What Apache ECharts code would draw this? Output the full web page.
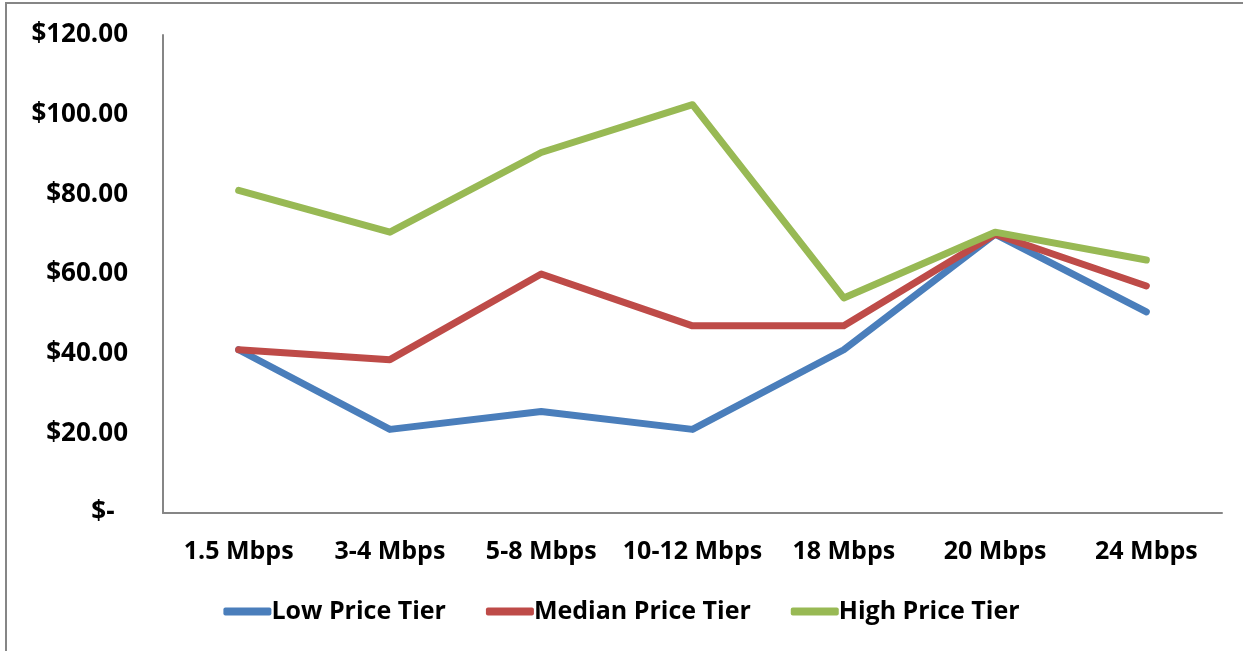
<!DOCTYPE html>
<html>
<head>
<meta charset="utf-8">
<script src="https://cdn.jsdelivr.net/npm/echarts@6/dist/echarts.min.js"></script>
<style>
html,body{margin:0;padding:0;background:#fff;}
#chart{width:1243px;height:651px;}
</style>
</head>
<body>
<div id="chart"></div>
<script>
// speed tiers and monthly price by tier
var categories = ['1.5 Mbps', '3-4 Mbps', '5-8 Mbps', '10-12 Mbps', '18 Mbps', '20 Mbps', '24 Mbps'];
var lowTier = [40.99, 20.99, 25.5, 20.99, 40.99, 69.99, 50.5];
var medianTier = [40.99, 38.5, 59.99, 46.99, 46.99, 69.99, 56.99];
var highTier = [80.99, 70.5, 90.5, 102.5, 53.99, 70.5, 63.5];
var yTicks = [0, 20, 40, 60, 80, 100, 120];

var font = '"Open Sans", "Liberation Sans", sans-serif';

var myChart = echarts.init(document.getElementById('chart'));

function lineSeries(name, data, color){
    return {
        name: name,
        type: 'line',
        data: data,
        showSymbol: false,
        symbol: 'none',
        lineStyle: {width: 7, color: color, cap: 'round', join: 'round'},
        itemStyle: {color: color}
    };
}

myChart.setOption({
    animation: false,
    graphic: [{
        type: 'rect',
        shape: {x: 6, y: 3, width: 1400, height: 800},
        style: {fill: 'none', stroke: '#868686', lineWidth: 2},
        silent: true
    }],
    grid: {left: 163, right: 21, top: 35, bottom: 138},
    legend: {
        bottom: 22,
        left: 'center',
        icon: 'roundRect',
        itemWidth: 48,
        itemHeight: 8,
        itemGap: 40,
        textStyle: {fontFamily: font, fontWeight: 'bold', fontSize: 25, color: '#000', padding: [0, 0, 0, -5]}
    },
    xAxis: {
        type: 'category',
        data: categories,
        boundaryGap: true,
        axisLine: {lineStyle: {color: '#868686', width: 2}},
        axisTick: {show: false},
        axisLabel: {interval: 0, fontFamily: font, fontWeight: 'bold', fontSize: 25, color: '#000', margin: 26}
    },
    yAxis: {
        type: 'value',
        min: 0,
        max: 120,
        interval: 20,
        axisLine: {show: true, lineStyle: {color: '#868686', width: 2}},
        axisTick: {show: false},
        splitLine: {show: false},
        axisLabel: {
            fontFamily: font, fontWeight: 'bold', fontSize: 26, color: '#000', margin: 35,
            formatter: function(v){
                if (yTicks.indexOf(v) < 0) return '';
                return v === 0 ? '$-  ' : '$' + v.toFixed(2);
            }
        }
    },
    series: [
        lineSeries('Low Price Tier', lowTier, '#4a7ebb'),
        lineSeries('Median Price Tier', medianTier, '#be4b48'),
        lineSeries('High Price Tier', highTier, '#98b954')
    ]
});
</script>
</body>
</html>
